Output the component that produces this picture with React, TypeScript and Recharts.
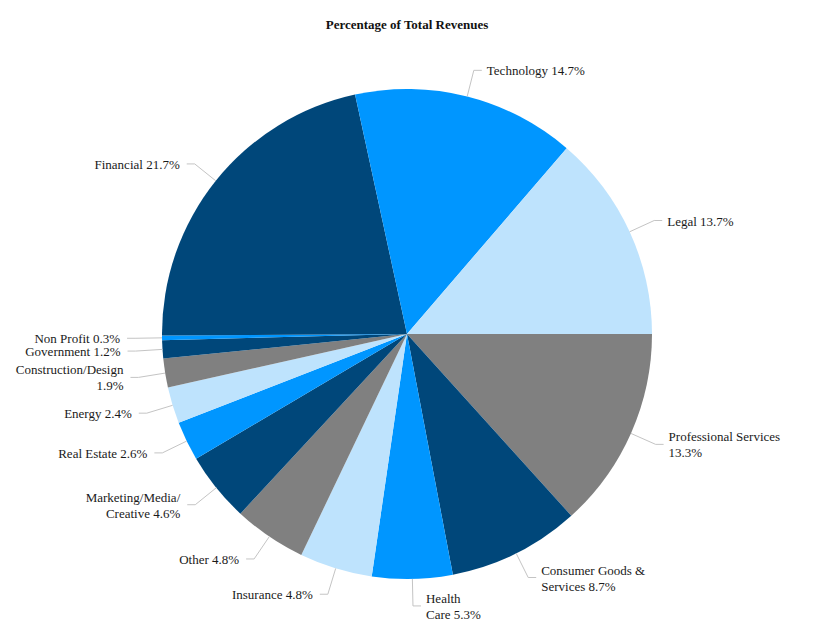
import { PieChart, Pie, Cell } from 'recharts'

const categories = [
  'Professional Services',
  'Consumer Goods & Services',
  'Health Care',
  'Insurance',
  'Other',
  'Marketing/Media/Creative',
  'Real Estate',
  'Energy',
  'Construction/Design',
  'Government',
  'Non Profit',
  'Financial',
  'Technology',
  'Legal',
]

const shares = [13.3, 8.7, 5.3, 4.8, 4.8, 4.6, 2.6, 2.4, 1.9, 1.2, 0.3, 21.7, 14.7, 13.7]

// label text as printed, "\n" marks a line break
const labels = [
  'Professional Services\n',
  'Consumer Goods &\nServices',
  'Health\nCare',
  'Insurance',
  'Other',
  'Marketing/Media/\nCreative',
  'Real Estate',
  'Energy',
  'Construction/Design\n',
  'Government',
  'Non Profit',
  'Financial',
  'Technology',
  'Legal',
]

const sliceColors = [
  '#808080', '#00477a', '#0096ff', '#bee3fd',
  '#808080', '#00477a', '#0096ff', '#bee3fd',
  '#808080', '#00477a', '#0096ff', '#00477a',
  '#0096ff', '#bee3fd',
]

const data = categories.map((name, i) => ({ name, value: shares[i], label: labels[i] }))

const RADIAN = Math.PI / 180
const FONT = '"Liberation Serif", "Times New Roman", Times, serif'

function renderLabel(props: any) {
  const { cx, cy, midAngle, outerRadius, index } = props
  const cos = Math.cos(-midAngle * RADIAN)
  const sin = Math.sin(-midAngle * RADIAN)
  const sx = cx + outerRadius * cos
  const sy = cy + outerRadius * sin
  const mx = cx + (outerRadius + 27) * cos
  const my = cy + (outerRadius + 27) * sin
  const right = cos >= 0
  const ex = mx + (right ? 8 : -8)
  const raw = labels[index]
  const text = raw + (raw.endsWith('\n') ? '' : ' ') + shares[index] + '%'
  const lines = text.split('\n')
  const tx = ex + (right ? 5 : -7)
  const ty = my - ((lines.length - 1) * 16) / 2
  return (
    <g>
      <polyline
        points={`${sx},${sy} ${mx},${my} ${ex},${my}`}
        fill="none"
        stroke="#c4c4c4"
        strokeWidth={1}
      />
      <text
        x={tx}
        y={ty}
        textAnchor={right ? 'start' : 'end'}
        dominantBaseline="central"
        fill="#1a1a1a"
        fontSize={13}
        style={{ fontFamily: FONT }}
      >
        {lines.map((l, i) => (
          <tspan key={i} x={tx} dy={i === 0 ? 0 : 16}>
            {l}
          </tspan>
        ))}
      </text>
    </g>
  )
}

export default function App() {
  return (
    <div style={{ width: 800, height: 620, position: 'relative' }}>
      <div
        style={{
          position: 'absolute',
          top: 9,
          left: 0,
          width: 798,
          textAlign: 'center',
          fontFamily: FONT,
          fontWeight: 'bold',
          fontSize: 13,
          color: '#111',
        }}
      >
        Percentage of Total Revenues
      </div>
      <PieChart width={800} height={620}>
        <Pie
          data={data}
          dataKey="value"
          nameKey="name"
          cx={394}
          cy={321}
          outerRadius={245}
          startAngle={0}
          endAngle={-360}
          stroke="none"
          label={renderLabel}
          labelLine={false}
          isAnimationActive={false}
        >
          {data.map((d, i) => (
            <Cell key={d.name} fill={sliceColors[i]} />
          ))}
        </Pie>
      </PieChart>
    </div>
  )
}
